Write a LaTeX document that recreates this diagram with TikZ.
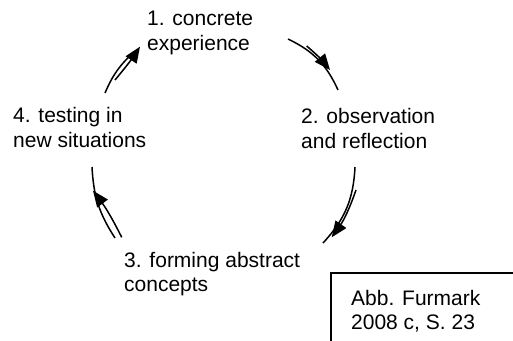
\documentclass[tikz,border=0pt]{standalone}
\usepackage{fontspec}
\setmainfont{Liberation Sans}
\usetikzlibrary{arrows.meta}
\newcommand\lbltab[1]{\begin{tabular}[t]{@{}l@{}}#1\end{tabular}}
\begin{document}
\begin{tikzpicture}[x=1pt,y=1pt,
  lbl/.style={anchor=base west,inner sep=0pt,font=\fontsize{21}{24.15}\selectfont},
  mainarc/.style={line width=1.5pt},
  headline/.style={line width=1.5pt,-{Triangle[length=16pt,width=13pt]}}]
\useasboundingbox (0,0) rectangle (513,340);
\clip (0,0) rectangle (513,340);
% labels
\node[lbl] (t1) at (147,314) {\lbltab{1. concrete\\experience}};
\node[lbl] (t2) at (301,216) {\lbltab{2. observation\\and reflection}};
\node[lbl] (t3) at (124,73) {\lbltab{3. forming abstract\\concepts}};
\node[lbl] (t4) at (13,217) {\lbltab{4. testing in\\new situations}};
\node[lbl] (src) at (351,35) {\lbltab{Abb. Furmark\\2008 c, S. 23}};
\draw[line width=1.5pt] (331,67) -- (520,67) -- (520,-10) -- (331,-10) -- cycle;
% arc coordinates
\coordinate (m1a) at (288,301); \coordinate (m1b) at (338,250);
\coordinate (s1) at (306.7,294); \coordinate (h1) at (330,270);
\coordinate (m2a) at (355,173); \coordinate (m2b) at (323,97);
\coordinate (s2) at (356,150); \coordinate (h2) at (331.7,102.7);
\coordinate (m3a) at (115,102); \coordinate (m3b) at (92,173);
\coordinate (s3) at (121.7,102.7); \coordinate (h3) at (93,149.3);
\coordinate (m4a) at (105,247); \coordinate (m4b) at (134,288);
\coordinate (s4) at (115,260); \coordinate (h4) at (140,293.3);
% arrows
\draw[mainarc] (m1a) to[bend left=20] (m1b);
\draw[headline] (s1) to[bend left=5] (h1);
\draw[mainarc] (m2a) to[bend left=20] (m2b);
\draw[headline] (s2) to[bend left=8] (h2);
\draw[mainarc] (m3a) to[bend left=15] (m3b);
\draw[headline] (s3) to[bend right=5] (h3);
\draw[mainarc] (m4a) to[bend left=12] (m4b);
\draw[headline] (s4) to[bend right=3] (h4);
\end{tikzpicture}
\end{document}
